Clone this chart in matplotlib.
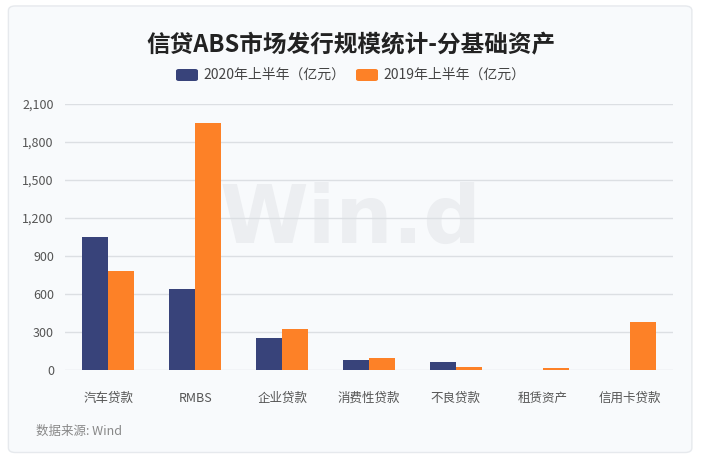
import matplotlib
matplotlib.use("Agg")
from matplotlib import pyplot as plt
from matplotlib.patches import FancyBboxPatch
from matplotlib.ticker import FuncFormatter
import numpy as np

plt.rcParams['font.family'] = ['Noto Sans CJK SC', 'DejaVu Sans']

categories = ["汽车贷款", "RMBS", "企业贷款", "消费性贷款", "不良贷款", "租赁资产", "信用卡贷款"]
h1_2020 = [1050, 640, 252, 80, 63, 0, 0]
h1_2019 = [780, 1950, 323, 97, 26, 18, 376]
yticks = [0, 300, 600, 900, 1200, 1500, 1800, 2100]

navy = "#38437a"
orange = "#fd8127"

fig = plt.figure(figsize=(7.01, 4.58), dpi=100, facecolor="white")

# card background
card = FancyBboxPatch((0.012, 0.012), 0.975, 0.975, boxstyle="round,pad=0,rounding_size=0.01",
                      transform=fig.transFigure, facecolor="#f8fafc", edgecolor="#e6e9ed",
                      linewidth=1, zorder=-5)
fig.patches.append(card)

ax = fig.add_axes([65 / 701, 1 - 370 / 458, 608 / 701, 266 / 458])
ax.set_facecolor("none")
ax.set_zorder(2)

x = np.arange(len(categories))
w = 0.3
ax.bar(x - w / 2, h1_2020, w, color=navy, zorder=3)
ax.bar(x + w / 2, h1_2019, w, color=orange, zorder=3)

ax.set_xlim(-0.5, len(categories) - 0.5)
ax.set_ylim(0, 2100)
ax.set_yticks(yticks)
ax.yaxis.set_major_formatter(FuncFormatter(lambda v, p: f"{int(v):,}"))
ax.set_xticks(x)
ax.set_xticklabels(categories)
ax.grid(axis="y", color="#dcdfe3", linewidth=1, zorder=0)
for s in ax.spines.values():
    s.set_visible(False)
ax.tick_params(axis="both", length=0, labelsize=9, colors="#555555")
ax.tick_params(axis="x", pad=16)
ax.tick_params(axis="y", pad=8)

# watermark
ax.text(0.47, 0.56, "Win.d", transform=ax.transAxes, fontsize=58, fontweight="bold",
        color="#eceef1", ha="center", va="center", family="DejaVu Sans", zorder=1)

fig.text(0.5, 1 - 45 / 458, "信贷ABS市场发行规模统计-分基础资产", fontsize=17, fontweight="bold",
         ha="center", va="center", color="#222222")

# legend
ly = 1 - 75 / 458
for lx, col, lab in [(176, navy, "2020年上半年（亿元）"), (356, orange, "2019年上半年（亿元）")]:
    fig.patches.append(FancyBboxPatch((lx / 701, ly - 6 / 458), 22 / 701, 12 / 458,
                                      boxstyle="round,pad=0,rounding_size=0.004",
                                      transform=fig.transFigure, facecolor=col, edgecolor="none"))
    fig.text((lx + 27) / 701, ly, lab, fontsize=10, va="center", ha="left", color="#444444")

fig.text(36 / 701, 1 - 431 / 458, "数据来源: Wind", fontsize=9, va="center", ha="left", color="#888888")

fig.savefig("out.png", dpi=100, facecolor="white")
